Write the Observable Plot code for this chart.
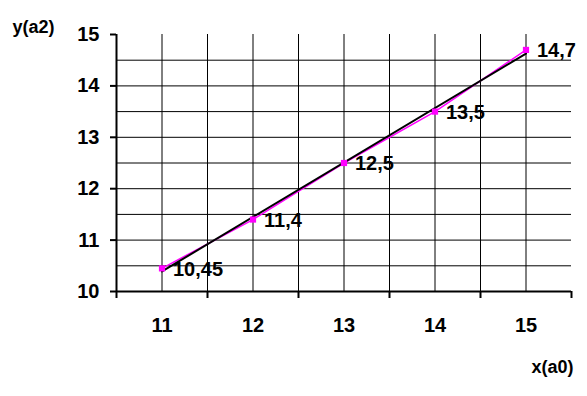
<!DOCTYPE html>
<html>
<head>
<meta charset="utf-8">
<script src="https://cdn.jsdelivr.net/npm/d3@7"></script>
<script src="https://cdn.jsdelivr.net/npm/@observablehq/plot@0.6"></script>
<style>
  html, body { margin: 0; padding: 0; background: #fff; }
</style>
</head>
<body>
<div id="chart"></div>
<script>
const xs = [11, 12, 13, 14, 15];
const ys = [10.45, 11.4, 12.5, 13.5, 14.7];
const labels = ["10,45", "11,4", "12,5", "13,5", "14,7"];
const xTickLabels = [11, 12, 13, 14, 15];
const yTickLabels = [10, 11, 12, 13, 14, 15];
const xTickMarks = [10.5, 11.5, 12.5, 13.5, 14.5, 15.5];
const xGrid = [11, 11.5, 12, 12.5, 13, 13.5, 14, 14.5, 15];
const yGrid = [10.5, 11, 11.5, 12, 12.5, 13, 13.5, 14, 14.5];
const xTitle = "x(a0)";
const yTitle = "y(a2)";

const data = xs.map((x, i) => ({x, y: ys[i], label: labels[i]}));

const chart = Plot.plot({
  width: 587,
  height: 396,
  marginLeft: 116,
  marginRight: 16,
  marginTop: 34,
  marginBottom: 105,
  style: {fontFamily: "'Liberation Sans', Arial, sans-serif", fontWeight: "bold", background: "#fff"},
  x: {domain: [10.5, 15.5]},
  y: {domain: [10, 15]},
  marks: [
    Plot.ruleX(xGrid, {y1: 10, y2: 15, stroke: "black", strokeWidth: 1}),
    Plot.ruleY(yGrid, {x1: 10.5, x2: 15.5, stroke: "black", strokeWidth: 1}),
    Plot.axisX({ticks: xTickMarks, tickSize: 7, tickFormat: () => "", strokeWidth: 2, label: null}),
    Plot.axisX({ticks: xTickLabels, tickSize: 0, tickPadding: 26, tickFormat: d => String(d), fontSize: 20, fill: "black", label: null}),
    Plot.axisY({ticks: yTickLabels, tickSize: 6, tickPadding: 11, tickFormat: d => String(d), strokeWidth: 2, fontSize: 20, fill: "black", label: null}),
    Plot.ruleY([10], {stroke: "black", strokeWidth: 2}),
    Plot.ruleX([10.5], {stroke: "black", strokeWidth: 2}),
    Plot.line(data, {x: "x", y: "y", stroke: "#ff00ff", strokeWidth: 1.5}),
    Plot.linearRegressionY(data, {x: "x", y: "y", ci: 0, stroke: "black", strokeWidth: 2}),
    Plot.dot(data, {x: "x", y: "y", symbol: "square", r: 3.5, fill: "#ff00ff", stroke: "none"}),
    Plot.text(data, {x: "x", y: "y", text: "label", textAnchor: "start", dx: 11, dy: 1, fontSize: 20, fill: "black"}),
    Plot.text([yTitle], {frameAnchor: "top-left", text: d => d, textAnchor: "start", dx: -104, dy: -14, fontSize: 18, fill: "black"}),
    Plot.text([xTitle], {frameAnchor: "bottom-right", text: d => d, textAnchor: "end", dx: 2, dy: 81, fontSize: 18, fill: "black"})
  ]
});
document.getElementById("chart").appendChild(chart);
</script>
</body>
</html>
